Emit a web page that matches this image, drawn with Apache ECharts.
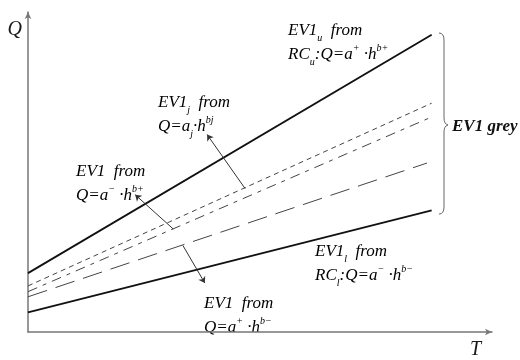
<!DOCTYPE html>
<html>
<head>
<meta charset="utf-8">
<script src="https://cdn.jsdelivr.net/npm/echarts@6/dist/echarts.min.js"></script>
<style>
  html, body { margin: 0; padding: 0; background: #fff; }
  #chart { width: 520px; height: 360px; }
</style>
</head>
<body>
<div id="chart"></div>
<script>
// T 0..100, Q 0..100 (schematic units)
var upperLine = [[0, 18.4], [87, 92.9]];   // EV1u
var shortDash = [[0, 14.4], [87, 71.5]];   // EV1j
var midDash = [[0, 12.6], [87, 67.2]];     // EV1 from a- h^b+
var longDash = [[0, 11.0], [86, 52.8]];    // EV1 from a+ h^b-
var lowerLine = [[0, 6.1], [87, 38.0]];    // EV1l

// arrows: [from, to]
var arrows = [
  [[46.8, 44.8], [38.6, 61.7]],
  [[31.3, 32.2], [23.1, 42.9]],
  [[33.4, 27.0], [38.1, 15.3]]
];

var chart = echarts.init(document.getElementById("chart"));

var txt = {
  t: { fontFamily: "Liberation Serif", fontStyle: "italic", fontSize: 17, lineHeight: 24, color: "#1a1a1a" },
  sub: { fontFamily: "Liberation Serif", fontStyle: "italic", fontSize: 10, verticalAlign: "bottom", color: "#1a1a1a" },
  sup: { fontFamily: "Liberation Serif", fontStyle: "italic", fontSize: 10, verticalAlign: "top", color: "#1a1a1a" }
};

function label(x, y, text) {
  return {
    type: "text",
    x: x,
    y: y,
    silent: true,
    style: { text: text, rich: txt, verticalAlign: "top", align: "left" }
  };
}

// curly brace pieces
var braceStyle = { fill: "none", stroke: "#666", lineWidth: 1 };
function curve(x1, y1, cx, cy, x2, y2) {
  return { type: "bezierCurve", silent: true, shape: { x1: x1, y1: y1, cpx1: cx, cpy1: cy, x2: x2, y2: y2 }, style: braceStyle };
}
function seg(x1, y1, x2, y2) {
  return { type: "line", silent: true, shape: { x1: x1, y1: y1, x2: x2, y2: y2 }, style: braceStyle };
}

var option = {
  animation: false,
  grid: { left: 28, right: 28, top: 12, bottom: 22 },
  xAxis: {
    type: "value",
    min: 0,
    max: 100,
    name: "T",
    nameLocation: "end",
    nameGap: -22,
    nameTextStyle: { fontFamily: "Liberation Serif", fontStyle: "italic", fontSize: 20, color: "#1a1a1a", verticalAlign: "top", padding: [8, 0, 0, 0] },
    axisLine: { lineStyle: { color: "#777", width: 1.5 }, symbol: ["none", "arrow"], symbolSize: [5, 7] },
    axisTick: { show: false },
    axisLabel: { show: false },
    splitLine: { show: false }
  },
  yAxis: {
    type: "value",
    min: 0,
    max: 100,
    name: "Q",
    nameLocation: "end",
    nameGap: -18,
    nameTextStyle: { fontFamily: "Liberation Serif", fontStyle: "italic", fontSize: 20, color: "#1a1a1a", align: "right", verticalAlign: "middle", padding: [0, 6, 0, 0] },
    axisLine: { lineStyle: { color: "#777", width: 1.5 }, symbol: ["none", "arrow"], symbolSize: [5, 7] },
    axisTick: { show: false },
    axisLabel: { show: false },
    splitLine: { show: false }
  },
  series: [
    {
      type: "line",
      data: upperLine,
      showSymbol: false,
      lineStyle: { color: "#111", width: 1.8 },
      markLine: {
        silent: true,
        symbol: ["none", "arrow"],
        symbolSize: 6,
        label: { show: false },
        lineStyle: { color: "#333", width: 1, type: "solid" },
        data: arrows.map(function (a) {
          return [{ coord: a[0] }, { coord: a[1] }];
        })
      }
    },
    {
      type: "line",
      data: shortDash,
      showSymbol: false,
      lineStyle: { color: "#444", width: 1, type: [5, 4] }
    },
    {
      type: "line",
      data: midDash,
      showSymbol: false,
      lineStyle: { color: "#444", width: 1, type: [10, 6, 4, 6] }
    },
    {
      type: "line",
      data: longDash,
      showSymbol: false,
      lineStyle: { color: "#444", width: 1, type: [20, 9] }
    },
    {
      type: "line",
      data: lowerLine,
      showSymbol: false,
      lineStyle: { color: "#111", width: 1.8 }
    }
  ],
  graphic: [
    label(288, 19, "{t|EV1}{sub|u}{t|  from}\n{t|RC}{sub|u}{t|:Q=a}{sup|+}{t| ·h}{sup|b+}"),
    label(158, 91, "{t|EV1}{sub|j}{t|  from}\n{t|Q=a}{sub|j}{t|·h}{sup|bj}"),
    label(76, 160, "{t|EV1  from}\n{t|Q=a}{sup|−}{t| ·h}{sup|b+}"),
    label(315, 240, "{t|EV1}{sub|l}{t|  from}\n{t|RC}{sub|l}{t|:Q=a}{sup|−}{t| ·h}{sup|b−}"),
    label(204, 292, "{t|EV1  from}\n{t|Q=a}{sup|+}{t| ·h}{sup|b−}"),
    {
      type: "text",
      x: 452,
      y: 127,
      silent: true,
      style: {
        text: "EV1 grey",
        fontFamily: "Liberation Serif",
        fontStyle: "italic",
        fontWeight: "bold",
        fontSize: 17,
        fill: "#111",
        verticalAlign: "middle"
      }
    },
    curve(439, 33, 444, 33, 444, 40),
    seg(444, 40, 444, 118),
    curve(444, 118, 444, 124, 448, 125),
    curve(448, 125, 444, 126, 444, 132),
    seg(444, 132, 444, 207),
    curve(444, 207, 444, 214, 439, 214)
  ]
};

chart.setOption(option);
</script>
</body>
</html>
